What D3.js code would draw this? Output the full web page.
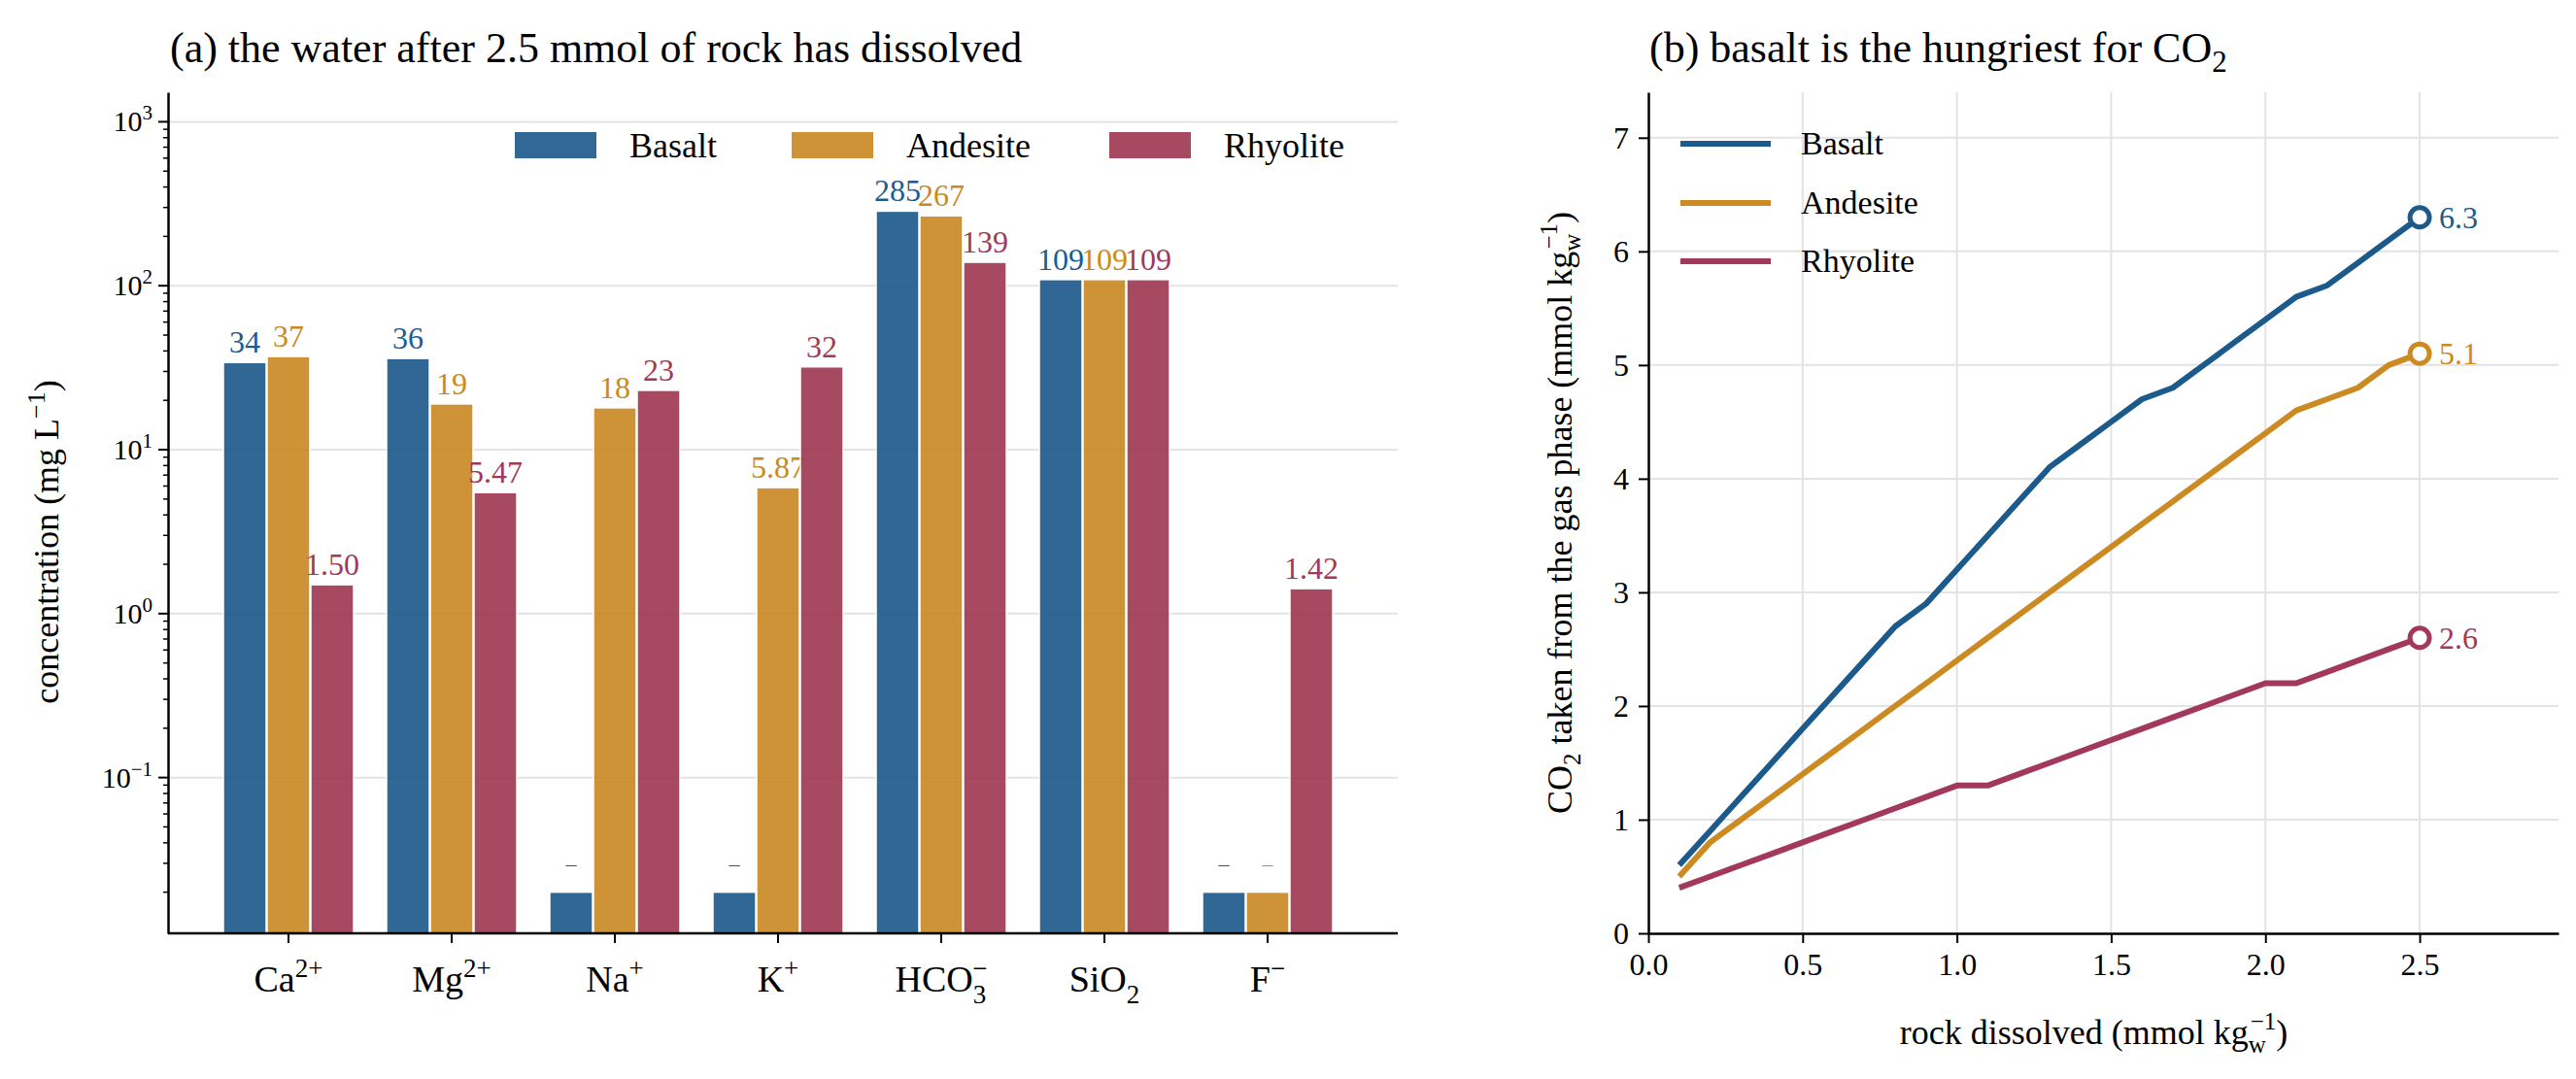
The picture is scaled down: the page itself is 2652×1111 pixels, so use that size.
<!DOCTYPE html>
<html><head><meta charset="utf-8">
<script src="https://cdn.jsdelivr.net/npm/d3@7"></script>
<style>body{margin:0;background:#fff}text{font-family:"Liberation Serif","DejaVu Serif",serif}</style>
</head><body><svg id="c" width="2652" height="1111"></svg>
<script>
const ions = ["Ca","Mg","Na","K","HCO3","SiO2","F"];
const series = ["Basalt","Andesite","Rhyolite"];
const basaltConc = [34, 36, null, null, 285, 109, null];
const andesiteConc = [37, 19, 18, 5.87, 267, 109, null];
const rhyoliteConc = [1.50, 5.47, 23, 32, 139, 109, 1.42];
const labelsA = [["34","36","–","–","285","109","–"],["37","19","18","5.87","267","109","–"],["1.50","5.47","23","32","139","109","1.42"]];
const rockX = [0.1,0.2,0.3,0.4,0.5,0.6,0.7,0.8,0.9,1.0,1.1,1.2,1.3,1.4,1.5,1.6,1.7,1.8,1.9,2.0,2.1,2.2,2.3,2.4,2.5];
const basaltCO2 = [0.6,0.9,1.2,1.5,1.8,2.1,2.4,2.7,2.9,3.2,3.5,3.8,4.1,4.3,4.5,4.7,4.8,5.0,5.2,5.4,5.6,5.7,5.9,6.1,6.3];
const andesiteCO2 = [0.5,0.8,1.0,1.2,1.4,1.6,1.8,2.0,2.2,2.4,2.6,2.8,3.0,3.2,3.4,3.6,3.8,4.0,4.2,4.4,4.6,4.7,4.8,5.0,5.1];
const rhyoliteCO2 = [0.4,0.5,0.6,0.7,0.8,0.9,1.0,1.1,1.2,1.3,1.3,1.4,1.5,1.6,1.7,1.8,1.9,2.0,2.1,2.2,2.2,2.3,2.4,2.5,2.6];
const endLabels = ["6.3","5.1","2.6"];
const missingValue = 0.02;
const barColors = ["#1f5b8c","#c98a25","#a13a55"];
const lineColors = ["#1b5a8a","#cc8a22","#a2385a"];

const svg = d3.select("#c");
// ---------- Panel A ----------
const A = {l:173, r:1439, t:95, b:961};
const yA = d3.scaleLog().domain([Math.pow(10,-1.95), Math.pow(10,3.18)]).range([A.b, A.t]);
const xA = d3.scaleBand().domain(ions).range([A.l+40, A.r-50]).paddingInner(0.2).paddingOuter(0.1);
const step = xA.step();
const cx = d => xA(d) + xA.bandwidth()/2;
const bw = 44, off = 45;
const gA = svg.append("g");
[-1,0,1,2,3].forEach(p => gA.append("line").attr("x1",A.l).attr("x2",A.r).attr("y1",yA(Math.pow(10,p))).attr("y2",yA(Math.pow(10,p))).attr("stroke","#e3e3e3").attr("stroke-width",2));
const concs = [basaltConc, andesiteConc, rhyoliteConc];
concs.forEach((arr, si) => {
  arr.forEach((v, i) => {
    const val = v == null ? missingValue : v;
    const x = cx(ions[i]) + (si-1)*off - bw/2;
    gA.append("rect").attr("x",x).attr("width",bw).attr("y",yA(val)).attr("height",A.b-yA(val))
      .attr("fill",barColors[si]).attr("opacity",0.92).attr("stroke","#fff").attr("stroke-width",1.5);
    gA.append("text").attr("x",x+bw/2).attr("y",yA(val)-(v==null?22:10)).attr("text-anchor","middle")
      .attr("font-size",v==null?22:32).attr("fill",barColors[si]).text(labelsA[si][i]);
  });
});
// axes
const yAxA = d3.axisLeft(yA).tickValues([]).tickSizeOuter(0);
gA.append("g").attr("transform",`translate(${A.l},0)`).call(yAxA).call(g=>g.select(".domain").attr("stroke-width",2.5));
const minor = [];
for (let p=-2;p<=3;p++) for (let k=1;k<10;k++){const v=k*Math.pow(10,p); if(v>=yA.domain()[0]&&v<=yA.domain()[1]) minor.push(v);}
minor.forEach(v => { const major = Math.abs(Math.log10(v)-Math.round(Math.log10(v)))<1e-9;
  gA.append("line").attr("x1",A.l-(major?10:5)).attr("x2",A.l).attr("y1",yA(v)).attr("y2",yA(v)).attr("stroke","#000").attr("stroke-width",major?2:1.5);});
[-1,0,1,2,3].forEach(p => { const t = gA.append("text").attr("x",A.l-16).attr("y",yA(Math.pow(10,p))+10).attr("text-anchor","end").attr("font-size",30);
  t.append("tspan").text("10"); t.append("tspan").attr("dy",-12).attr("font-size",21).text(p<0?"−1":String(p)); });
gA.append("line").attr("x1",A.l).attr("x2",A.r).attr("y1",A.b).attr("y2",A.b).attr("stroke","#000").attr("stroke-width",2.5);
const ionLabel = [
  [["Ca",0],["2+",-1]],[["Mg",0],["2+",-1]],[["Na",0],["+",-1]],[["K",0],["+",-1]],
  [["HCO",0],["3",1],["−",-1]],[["SiO",0],["2",1]],[["F",0],["−",-1]]];
ions.forEach((d,i) => {
  gA.append("line").attr("x1",cx(d)).attr("x2",cx(d)).attr("y1",A.b).attr("y2",A.b+10).attr("stroke","#000").attr("stroke-width",2);
  const t = gA.append("text").attr("x",cx(d)).attr("y",A.b+60).attr("text-anchor","middle").attr("font-size",38);
  let prev = 0;
  ionLabel[i].forEach(([s,lvl],j) => {
    const sp = t.append("tspan").text(s);
    if (lvl!==0) { sp.attr("font-size",27); }
    let target = lvl===-1?-15:(lvl===1?12:0);
    if (s==="−" && i===4) { sp.attr("dx",-14); }
    sp.attr("dy", target-prev); prev = target;
  });
});
gA.append("text").attr("transform",`translate(60,${(A.t+A.b)/2+30}) rotate(-90)`).attr("text-anchor","middle").attr("font-size",36)
  .call(t=>{t.append("tspan").text("concentration (mg L"); t.append("tspan").attr("dy",-14).attr("font-size",26).text("−1"); t.append("tspan").attr("dy",14).text(")");});
gA.append("text").attr("x",175).attr("y",64).attr("font-size",44).text("(a)  the water after 2.5 mmol of rock has dissolved");
// legend A
const legA = [[530,643],[815,935],[1142,1258]];
series.forEach((s,i)=>{
  gA.append("rect").attr("x",legA[i][0]).attr("y",136).attr("width",84).attr("height",27).attr("fill",barColors[i]).attr("opacity",0.92);
  gA.append("text").attr("x",legA[i][0]+118).attr("y",162).attr("font-size",36).text(s);
});

// ---------- Panel B ----------
const B = {l:1697, r:2634, t:95, b:961};
const xB = d3.scaleLinear().domain([0,2.95]).range([B.l,B.r]);
const yB = d3.scaleLinear().domain([0,7.4]).range([B.b,B.t]);
const gB = svg.append("g");
[0.5,1,1.5,2,2.5].forEach(v=>gB.append("line").attr("x1",xB(v)).attr("x2",xB(v)).attr("y1",B.t).attr("y2",B.b).attr("stroke","#e3e3e3").attr("stroke-width",2));
[1,2,3,4,5,6,7].forEach(v=>gB.append("line").attr("x1",B.l).attr("x2",B.r).attr("y1",yB(v)).attr("y2",yB(v)).attr("stroke","#e3e3e3").attr("stroke-width",2));
gB.append("g").attr("transform",`translate(0,${B.b})`).call(d3.axisBottom(xB).tickValues([0,0.5,1,1.5,2,2.5]).tickFormat(d3.format(".1f")).tickSize(10).tickPadding(10).tickSizeOuter(0))
  .call(g=>{g.select(".domain").attr("stroke-width",2.5);g.selectAll(".tick line").attr("stroke-width",2);g.selectAll("text").attr("font-size",32).attr("font-family","Liberation Serif");});
gB.append("g").attr("transform",`translate(${B.l},0)`).call(d3.axisLeft(yB).tickValues([0,1,2,3,4,5,6,7]).tickSize(10).tickPadding(10).tickSizeOuter(0))
  .call(g=>{g.select(".domain").attr("stroke-width",2.5);g.selectAll(".tick line").attr("stroke-width",2);g.selectAll("text").attr("font-size",32).attr("font-family","Liberation Serif");});
const co2 = [basaltCO2, andesiteCO2, rhyoliteCO2];
const line = d3.line().x((d,i)=>xB(rockX[i])).y(d=>yB(d));
co2.forEach((arr,si)=>{
  gB.append("path").attr("d",line(arr)).attr("fill","none").attr("stroke",lineColors[si]).attr("stroke-width",6).attr("stroke-linejoin","round");
  const last = arr.length-1;
  gB.append("circle").attr("cx",xB(rockX[last])).attr("cy",yB(arr[last])).attr("r",10).attr("fill","#fff").attr("stroke",lineColors[si]).attr("stroke-width",5);
  gB.append("text").attr("x",xB(rockX[last])+20).attr("y",yB(arr[last])+11).attr("font-size",32).attr("fill",lineColors[si]).text(endLabels[si]);
});
const legBy = [148,209,269];
series.forEach((s,i)=>{
  gB.append("line").attr("x1",1730).attr("x2",1823).attr("y1",legBy[i]).attr("y2",legBy[i]).attr("stroke",lineColors[i]).attr("stroke-width",6);
  gB.append("text").attr("x",1854).attr("y",legBy[i]+11).attr("font-size",34).text(s);
});
gB.append("text").attr("x",(B.l+B.r)/2-10).attr("y",1075).attr("text-anchor","middle").attr("font-size",36)
  .call(t=>{t.append("tspan").text("rock dissolved  (mmol kg");t.append("tspan").attr("dy",9).attr("font-size",25).text("w");
    t.append("tspan").attr("dx",-16).attr("dy",-24).attr("font-size",25).text("−1");t.append("tspan").attr("dy",15).text(")");});
gB.append("text").attr("transform",`translate(1618,${(B.t+B.b)/2}) rotate(-90)`).attr("text-anchor","middle").attr("font-size",36)
  .call(t=>{t.append("tspan").text("CO");t.append("tspan").attr("dy",9).attr("font-size",25).text("2");
    t.append("tspan").attr("dy",-9).text(" taken from the gas phase  (mmol kg");t.append("tspan").attr("dy",9).attr("font-size",25).text("w");
    t.append("tspan").attr("dx",-16).attr("dy",-24).attr("font-size",25).text("−1");t.append("tspan").attr("dy",15).text(")");});
gB.append("text").attr("x",1698).attr("y",64).attr("font-size",44)
  .call(t=>{t.append("tspan").text("(b)  basalt is the hungriest for CO");t.append("tspan").attr("dy",10).attr("font-size",31).text("2");});
</script></body></html>
